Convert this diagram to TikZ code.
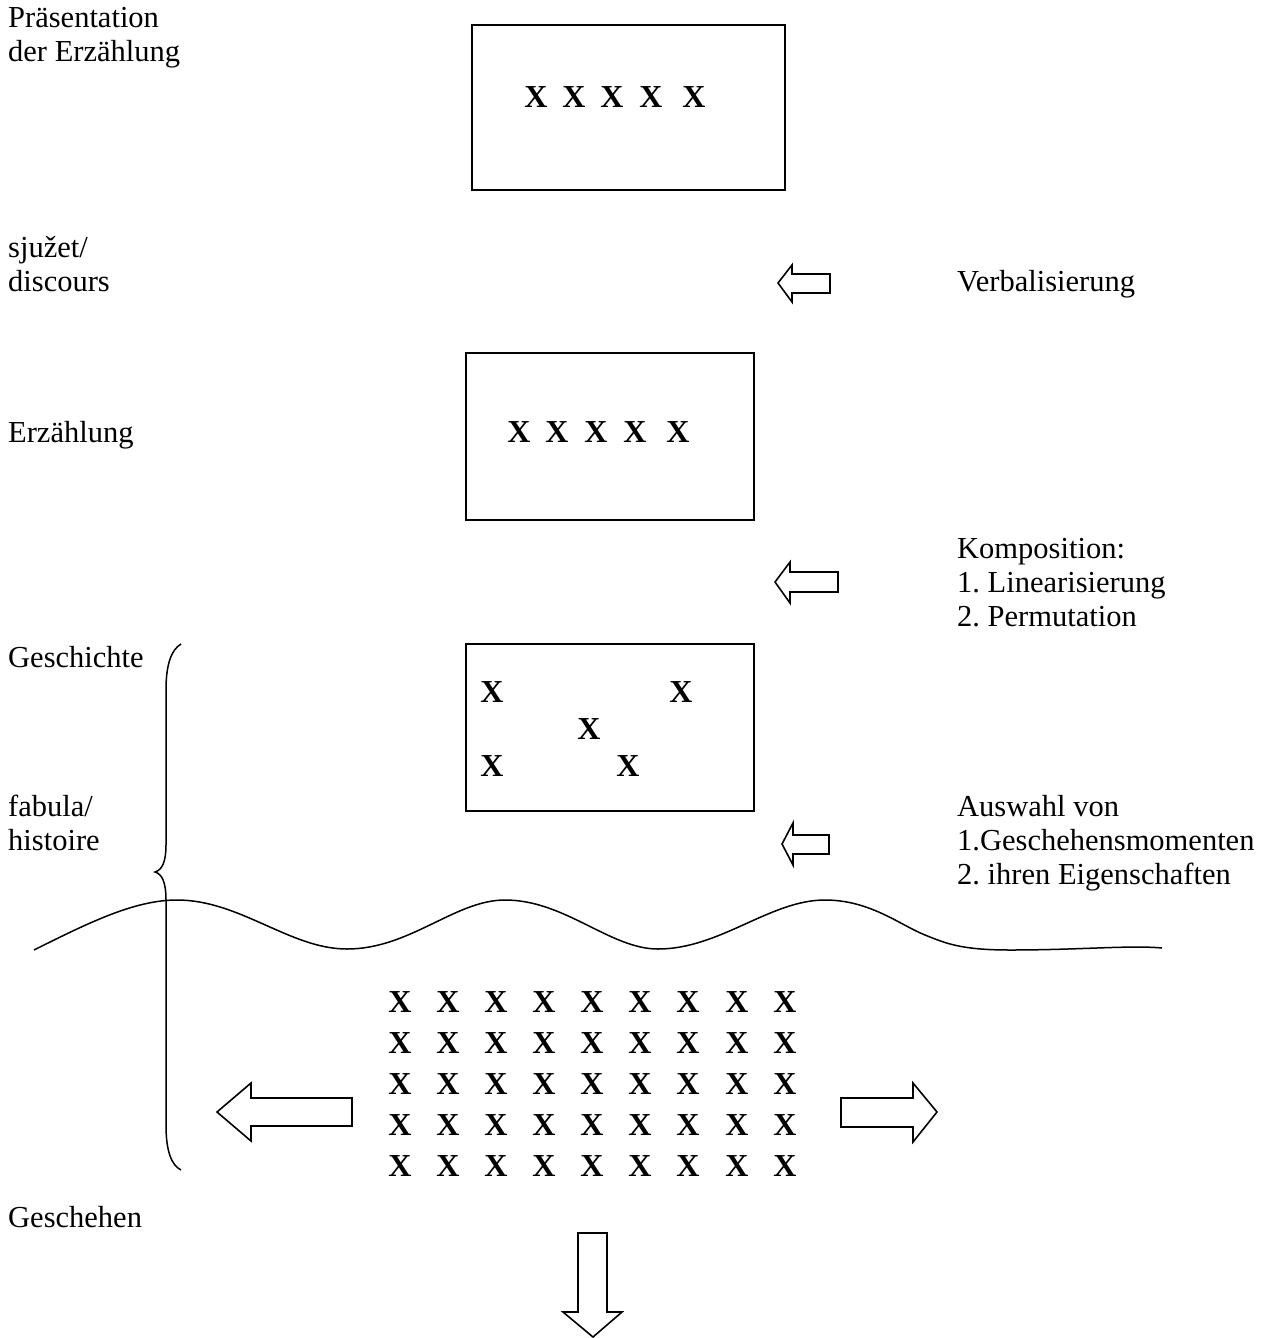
\documentclass[tikz,border=0pt]{standalone}
\usepackage{fontspec}
\setmainfont{Liberation Serif}
\frenchspacing
\begin{document}
\begin{tikzpicture}[x=1pt,y=-1pt,
  lbl/.style={anchor=base west,inner sep=0pt,font=\fontsize{30.5}{34}\selectfont,align=left},
  xx/.style={inner sep=0pt,font=\fontsize{32}{34}\selectfont\bfseries},
  frame/.style={draw,line width=1.8pt},
  fat/.style={draw,line width=1.6pt,line join=miter},
  curve/.style={draw,line width=1.5pt}]
\useasboundingbox (0,0) rectangle (1274,1338);
% left labels
\node[lbl] (praes) at (8,28) {Präsentation};
\node[lbl] (praes2) at (8,62) {der Erzählung};
\node[lbl] (sjuzet) at (8,257) {sjužet/};
\node[lbl] (discours) at (8,291) {discours};
\node[lbl] (erz) at (8,442) {Erzählung};
\node[lbl] (gesch) at (8,667) {Geschichte};
\node[lbl] (fabula) at (8,816) {fabula/};
\node[lbl] (histoire) at (8,850) {histoire};
\node[lbl] (geschehen) at (8,1227) {Geschehen};
% right labels
\node[lbl] (verb) at (957,291) {Verbalisierung};
\node[lbl] (komp) at (957,558) {Komposition:};
\node[lbl] (lin) at (957,592) {1. Linearisierung};
\node[lbl] (perm) at (957,626) {2. Permutation};
\node[lbl] (ausw) at (957,816) {Auswahl von};
\node[lbl] (gm) at (957,850) {1.Geschehensmomenten};
\node[lbl] (eig) at (957,884) {2. ihren Eigenschaften};
% boxes
\draw[frame] (472,25) rectangle (785,190);
\draw[frame] (466,353) rectangle (754,520);
\draw[frame] (466,644) rectangle (754,811);
% X in box 1
\foreach \x [count=\i] in {536,574,612,651,694} \node[xx] (a\i) at (\x,97) {X};
% X in box 2
\foreach \x [count=\i] in {519,557,596,635,678} \node[xx] (b\i) at (\x,432) {X};
% X in box 3
\node[xx] (c1) at (492,692) {X};
\node[xx] (c2) at (681,692) {X};
\node[xx] (c3) at (589,729) {X};
\node[xx] (c4) at (492,766) {X};
\node[xx] (c5) at (628,766) {X};
% grid
\foreach \y [count=\r] in {1002,1043,1084,1125,1166}
  \foreach \x [count=\c] in {400,448,496,544,592,640,688,737,785}
    \node[xx] (g\r-\c) at (\x,\y) {X};
% small arrows
\draw[fat] (778,283) -- (792,265) -- (792,274) -- (830,274) -- (830,293) -- (792,293) -- (792,302) -- cycle;
\draw[fat] (775,582) -- (790,562) -- (790,572) -- (838,572) -- (838,592) -- (790,592) -- (790,603) -- cycle;
\draw[fat] (782,844) -- (793,823) -- (793,835) -- (829,835) -- (829,854) -- (793,854) -- (793,865) -- cycle;
% big arrows
\draw[fat] (217,1112) -- (251,1083) -- (251,1098) -- (352,1098) -- (352,1126) -- (251,1126) -- (251,1141) -- cycle;
\draw[fat] (937,1112) -- (913,1083) -- (913,1098) -- (841,1098) -- (841,1127) -- (913,1127) -- (913,1142) -- cycle;
\draw[fat] (593,1337) -- (563,1312) -- (578,1312) -- (578,1233) -- (607,1233) -- (607,1312) -- (622,1312) -- cycle;
% brace
\draw[curve] (181,644) .. controls (171,650) and (166,665) .. (166,690) -- (166,845)
  .. controls (166,862) and (162,870) .. (155,872)
  .. controls (162,874) and (166,882) .. (166,900) -- (166,1125)
  .. controls (166,1150) and (171,1165) .. (181,1170);
% wave
\draw[curve] (34,950) .. controls (90,922) and (135,900) .. (177,900)
  .. controls (240,900) and (290,949) .. (347,949)
  .. controls (410,949) and (455,900) .. (505,900)
  .. controls (565,900) and (610,949) .. (658,949)
  .. controls (720,949) and (770,900) .. (825,900)
  .. controls (870,900) and (900,925) .. (925,935)
  .. controls (945,943) and (960,950) .. (1010,950)
  .. controls (1080,950) and (1130,945) .. (1162,948);
\end{tikzpicture}
\end{document}
